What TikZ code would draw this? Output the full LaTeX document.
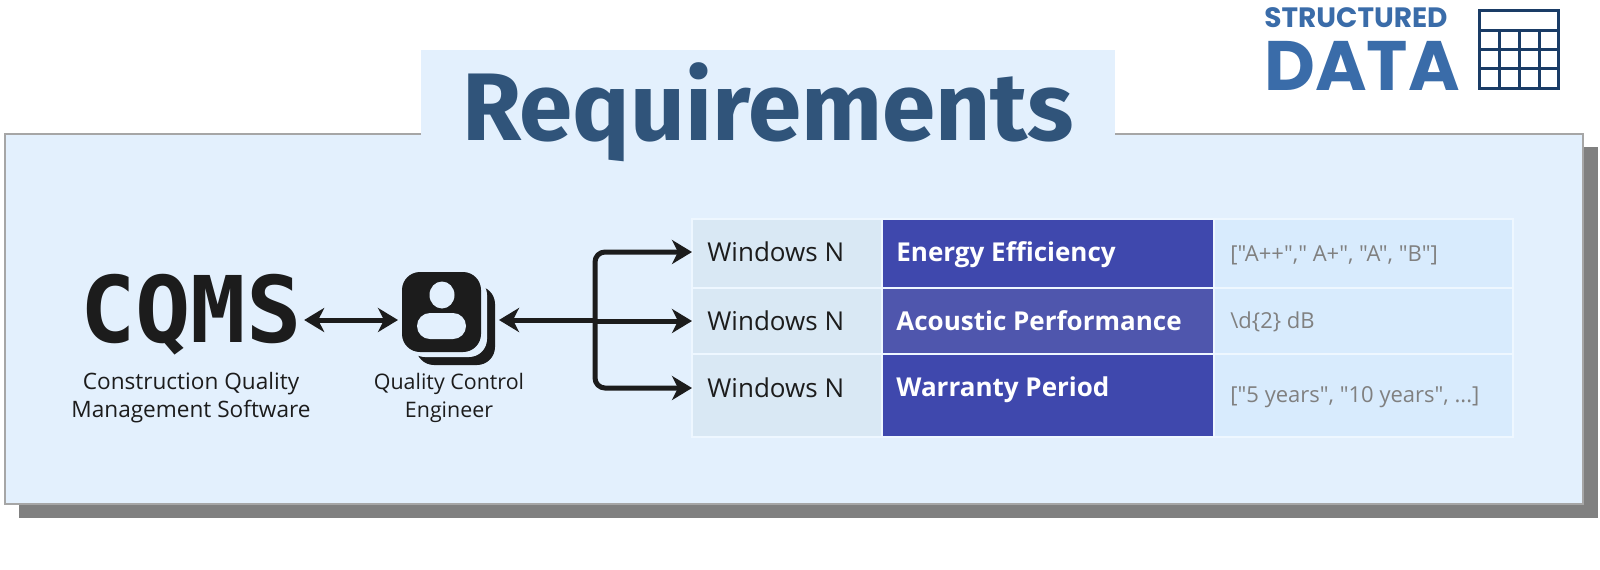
\documentclass[tikz,border=0pt]{standalone}
\usepackage{fontspec}
\setmainfont{Open Sans}
\newfontfamily\titlefont{Fira Sans}
\newfontfamily\logofont{Poppins}
\newfontfamily\codefont{DejaVu Sans Mono}
\newfontfamily\valfont{Open Sans}
\usetikzlibrary{arrows.meta}
\definecolor{panelblue}{HTML}{E3F0FD}
\definecolor{titleblue}{HTML}{30547A}
\definecolor{logoblue}{HTML}{3A6CA9}
\definecolor{logonavy}{HTML}{1A3C66}
\definecolor{inkdark}{HTML}{1C1C1C}
\definecolor{cellwin}{HTML}{D9E8F4}
\definecolor{cellname}{HTML}{3F48AD}
\definecolor{cellnamelight}{HTML}{4F56AD}
\definecolor{cellval}{HTML}{D8EBFD}
\definecolor{cellline}{HTML}{EEF7FF}
\begin{document}
\begin{tikzpicture}[x=0.5pt,y=-0.5pt,>={Stealth[length=10pt,width=12pt,inset=3pt]},
  link/.style={line width=2.5pt,inkdark},
  branch/.style={line width=2.5pt,inkdark,rounded corners=5pt,->},
  cell/.style={draw=cellline,line width=1pt},
  winlabel/.style={anchor=west,inner xsep=7.5pt,inner ysep=0pt,font=\fontsize{13}{15}\selectfont,text=inkdark},
  namelabel/.style={anchor=west,inner sep=0pt,font=\fontsize{13}{15}\selectfont\bfseries,text=white},
  vallabel/.style={anchor=west,inner sep=0pt,font=\valfont\fontsize{11}{13}\selectfont,text=gray},
  caption/.style={align=center,inner sep=0pt,font=\fontsize{11.3}{14}\selectfont,text=inkdark}]
\useasboundingbox (0,0) rectangle (1600,569);

\fill[black!50] (19,147) rectangle (1598,518);
\draw[fill=panelblue,draw=black!35,line width=1pt] (5,134) rectangle (1583,504);
\fill[panelblue] (421,50) rectangle (1115,167);
\node[inner sep=0pt,anchor=base,font=\titlefont\fontsize{48}{55}\selectfont\bfseries,text=titleblue] (title) at (768,140) {Requirements};

\node[inner sep=0pt,anchor=base,font=\logofont\fontsize{14}{15}\selectfont\bfseries,text=logoblue] (logotop) at (1356,27) {STRUCTURED};
\node[inner sep=0pt,anchor=base,font=\logofont\fontsize{35}{36}\selectfont\bfseries,text=logoblue] (logodata) at (1362,90) {DATA};
\draw[logonavy,line width=1.5pt] (1479,10) rectangle (1558,88);
\draw[logonavy,line width=1.5pt] (1479,30) -- (1558,30);
\draw[logonavy,line width=1.5pt] (1479,49) -- (1558,49);
\draw[logonavy,line width=1.5pt] (1479,68) -- (1558,68);
\draw[logonavy,line width=1.5pt] (1499,30) -- (1499,88);
\draw[logonavy,line width=1.5pt] (1519,30) -- (1519,88);
\draw[logonavy,line width=1.5pt] (1539,30) -- (1539,88);

% table cells
\path[cell,fill=cellwin] (692,219) rectangle (882,288);
\path[cell,fill=cellwin] (692,288) rectangle (882,354);
\path[cell,fill=cellwin] (692,354) rectangle (882,437);
\path[cell,fill=cellname] (882,219) rectangle (1214,288);
\path[cell,fill=cellnamelight] (882,288) rectangle (1214,354);
\path[cell,fill=cellname] (882,354) rectangle (1214,437);
\path[cell,fill=cellval] (1214,219) rectangle (1513,288);
\path[cell,fill=cellval] (1214,288) rectangle (1513,354);
\path[cell,fill=cellval] (1214,354) rectangle (1513,437);

\node[winlabel] (win1) at (692,252) {Windows N};
\node[winlabel] (win2) at (692,321) {Windows N};
\node[winlabel] (win3) at (692,388) {Windows N};
\node[namelabel] (name1) at (896,255) {Energy Efficiency};
\node[namelabel] (name2) at (896,321) {Acoustic Performance};
\node[namelabel] (name3) at (896,390) {Warranty Period};
\node[vallabel] (val1) at (1230,255) {["A++"," A+", "A", "B"]};
\node[vallabel] (val2) at (1230,322) {\textbackslash d\{2\} dB};
\node[vallabel] (val3) at (1230,397) {["5 years", "10 years", ...]};

% system and engineer
\node[inner sep=0pt,anchor=base,font=\codefont\fontsize{46}{50}\selectfont\bfseries,text=inkdark] (cqms) at (191,342) {CQMS};
\node[caption] (cqmstext) at (191,398) {Construction Quality\\Management Software};
\node[caption,font=\fontsize{10.7}{14}\selectfont] (engtext) at (449,398) {Quality Control\\Engineer};

\fill[inkdark,rounded corners=9pt] (416,286) rectangle (495,365);
\fill[panelblue,rounded corners=9pt] (407,277) rectangle (487,357);
\fill[inkdark,rounded corners=9pt] (402,272) rectangle (481,352);
\fill[panelblue] (442,295) ellipse (12.5 and 13.5);
\fill[panelblue,rounded corners=6.5pt] (417,313) rectangle (466,339);
\node[minimum width=46.5pt,minimum height=46.5pt,inner sep=0pt,outer sep=2pt] (icon) at (448.5,320) {};
\coordinate (jun) at (595,320);

\draw[link,<->] (cqms.east |- icon) ++(2,0) -- (icon.west);
\draw[link,<-] (icon.east) -- (jun);
\draw[branch] (jun) |- (win1.west);
\draw[branch,rounded corners=0pt] (jun |- win2) -- (win2.west);
\draw[branch] (jun) |- (win3.west);
\end{tikzpicture}
\end{document}
